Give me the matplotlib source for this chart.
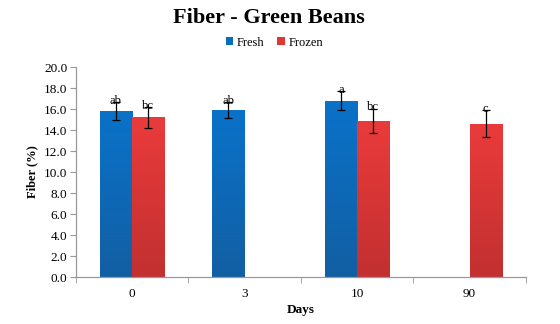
import numpy as np
import matplotlib.pyplot as plt
from matplotlib.colors import LinearSegmentedColormap
from matplotlib.patches import Patch

plt.rcParams['font.family'] = ['Liberation Serif', 'DejaVu Serif']

days = ["0", "3", "10", "90"]
fresh = [15.8, 15.9, 16.8, np.nan]
fresh_err = [0.85, 0.75, 0.9, np.nan]
fresh_letters = ["ab", "ab", "a", ""]
frozen = [15.2, np.nan, 14.9, 14.6]
frozen_err = [1.0, np.nan, 1.15, 1.3]
frozen_letters = ["bc", "", "bc", "c"]

fig = plt.figure(figsize=(5.6, 3.24), dpi=100)
ax = fig.add_axes([0.135, 0.145, 0.804, 0.648])

x = np.arange(len(days))
w = 0.285

fresh_cmap = LinearSegmentedColormap.from_list("fr", ["#125fa3", "#0a72c9"])
frozen_cmap = LinearSegmentedColormap.from_list("fz", ["#c23030", "#ea3b3b"])
grad = np.linspace(0, 1, 100).reshape(-1, 1)


def draw(pos, vals, errs, letters, cmap):
    bars = ax.bar(pos, vals, w, color="none", zorder=2)
    for b in bars:
        h = b.get_height()
        if np.isnan(h):
            continue
        im = ax.imshow(grad, cmap=cmap, origin="lower", aspect="auto",
                       extent=[b.get_x(), b.get_x() + b.get_width(), 0, h], zorder=2)
        im.set_clip_path(b)
    ax.errorbar(pos, vals, yerr=errs, fmt="none", ecolor="black", elinewidth=0.9,
                capsize=3, capthick=0.9, zorder=3)
    for p, v, e, t in zip(pos, vals, errs, letters):
        if t:
            ax.text(p, v + e + 0.1, t, ha="center", va="center", fontsize=9, zorder=4)


draw(x - w / 2, fresh, fresh_err, fresh_letters, fresh_cmap)
draw(x + w / 2, frozen, frozen_err, frozen_letters, frozen_cmap)

ax.set_xlim(-0.5, 3.5)
ax.set_ylim(0, 20)
ax.set_yticks(np.arange(0, 20.1, 2))
ax.set_yticklabels([f"{v:.1f}" for v in np.arange(0, 20.1, 2)], fontsize=9.5)
ax.set_xticks(x)
ax.set_xticklabels(days, fontsize=9.5)
ax.set_xticks(np.arange(-0.5, 3.6, 1), minor=True)
ax.tick_params(axis="x", which="major", length=0, pad=8)
ax.tick_params(axis="x", which="minor", length=4, color="#999999")
ax.tick_params(axis="y", length=4, color="#999999", pad=2)

for s in ["top", "right"]:
    ax.spines[s].set_visible(False)
for s in ["left", "bottom"]:
    ax.spines[s].set_color("#999999")
    ax.spines[s].set_linewidth(0.9)

ax.set_xlabel("Days", fontsize=9.5, fontweight="bold", labelpad=3)
ax.set_ylabel("Fiber (%)", fontsize=9, fontweight="bold", labelpad=4)

fig.suptitle("Fiber - Green Beans", x=0.48, y=0.975, fontsize=16, fontweight="bold")
handles = [Patch(facecolor="#0a6ebf", label="Fresh"),
           Patch(facecolor="#e03636", label="Frozen")]
fig.legend(handles=handles, loc="center", bbox_to_anchor=(0.49, 0.868), ncol=2,
           frameon=False, fontsize=9, handlelength=0.6, handleheight=0.6,
           handletextpad=0.3, columnspacing=1.0)

fig.savefig("out.png", dpi=100)
